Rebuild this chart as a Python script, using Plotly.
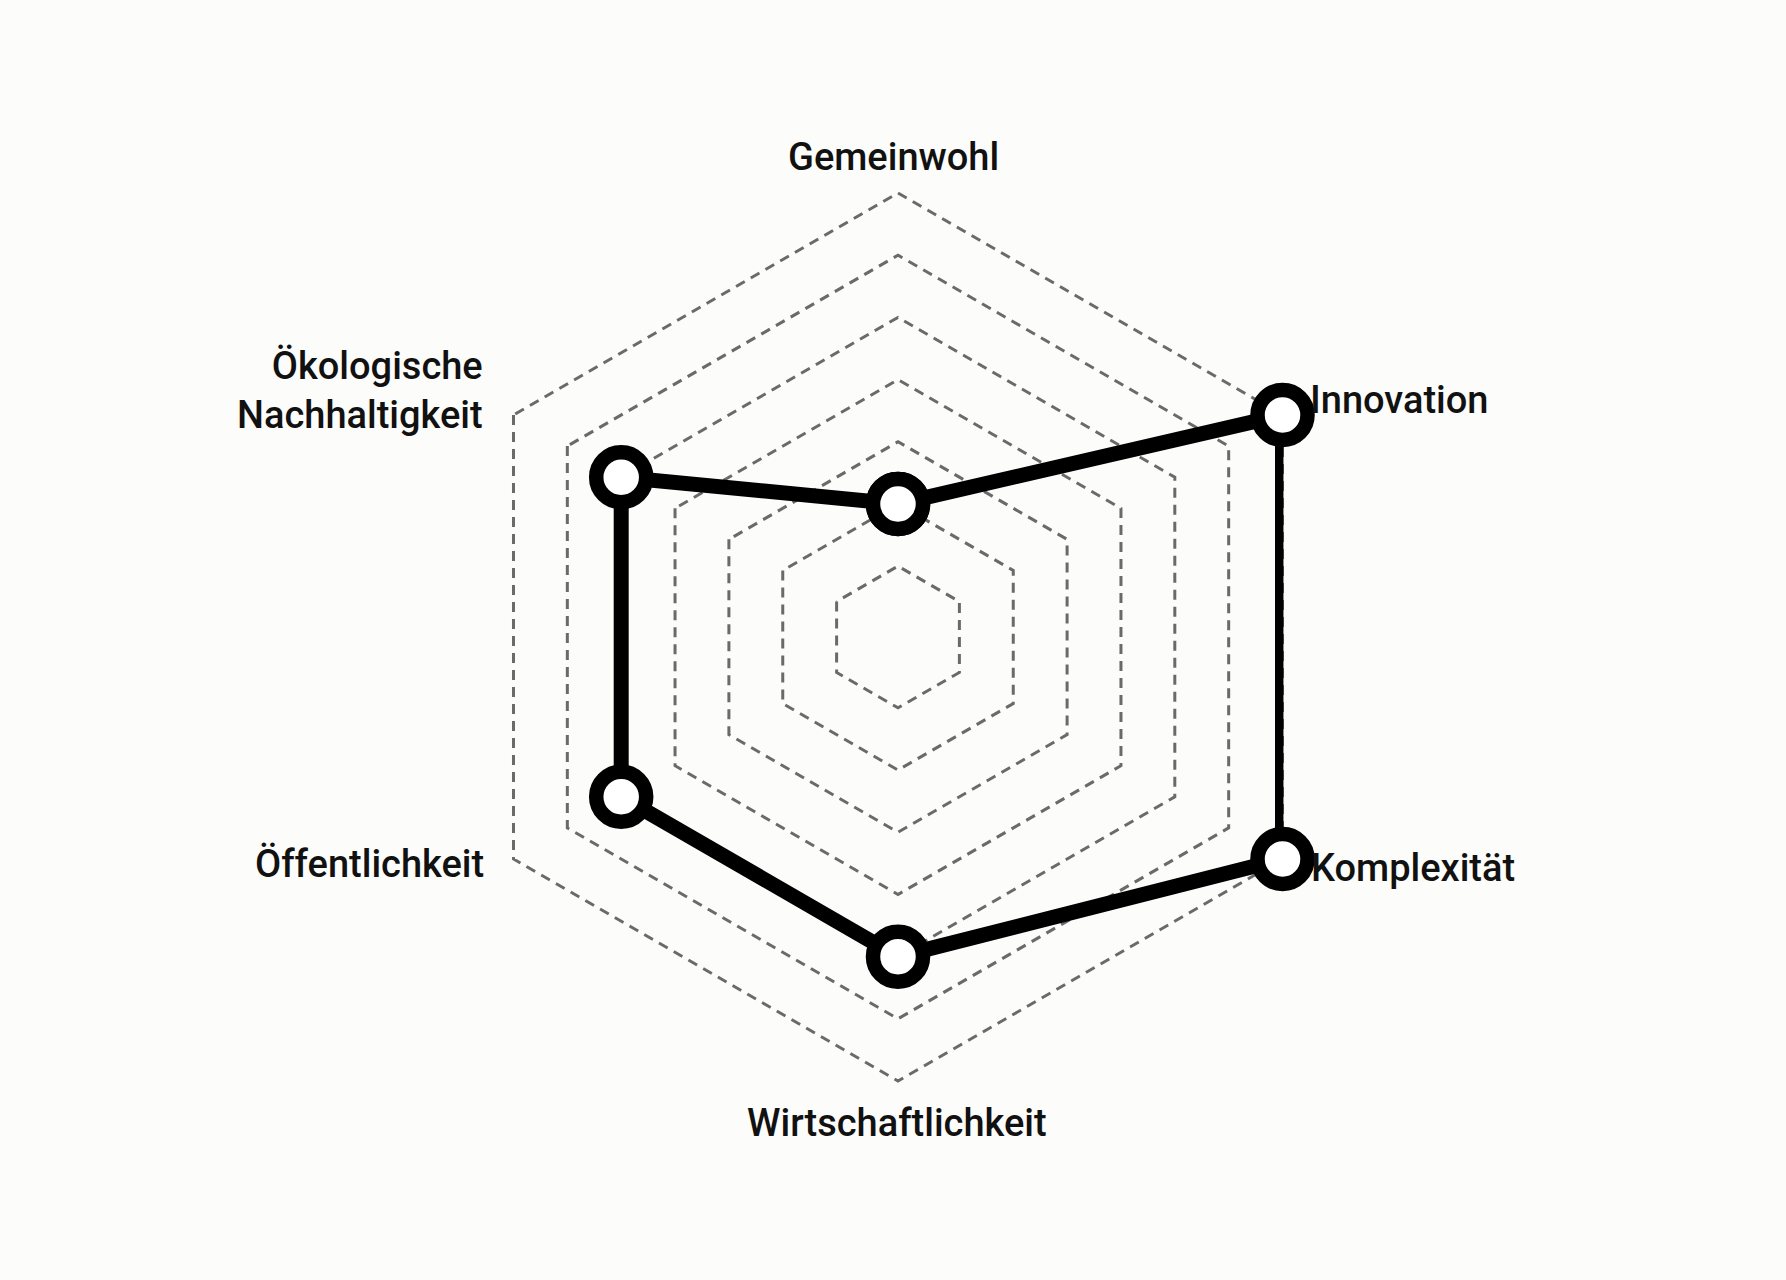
import math
import plotly.graph_objects as go

categories = ["Gemeinwohl", "Innovation", "Komplexität", "Wirtschaftlichkeit",
              "Öffentlichkeit", "Ökologische Nachhaltigkeit"]
label_texts = ["Gemeinwohl", "Innovation", "Komplexität", "Wirtschaftlichkeit",
               "Öffentlichkeit", "Ökologische<br>Nachhaltigkeit"]
values = [2, 7, 7, 5, 5, 5]
ring_values = [1, 2, 3, 4, 5, 6, 7]
axis_max = 7

# layout / styling constants (pixels)
W, H = 1786, 1280
cx, cy = 898, 637
r_min, r_max = -0.14, 7.02
R7 = 444
Rd = R7 * (r_max - r_min) / (axis_max - r_min)
FONT = dict(family="Roboto", size=38, color="#111111", weight=500)

# per-label placement relative to the outer vertex
label_style = [
    dict(xanchor="center", yanchor="middle", xshift=-4, yshift=36),
    dict(xanchor="left", yanchor="middle", xshift=25, yshift=15),
    dict(xanchor="left", yanchor="middle", xshift=26, yshift=-9),
    dict(xanchor="center", yanchor="middle", xshift=-1, yshift=-42),
    dict(xanchor="right", yanchor="middle", xshift=-27, yshift=-5),
    dict(xanchor="right", yanchor="middle", xshift=-28, yshift=25, align="right"),
]

fig = go.Figure()
fig.add_trace(go.Scatterpolar(
    r=values + values[:1],
    theta=categories + categories[:1],
    mode="lines+markers",
    line=dict(color="#000000", width=15),
    marker=dict(size=50, color="#ffffff", line=dict(color="#000000", width=14.5)),
    cliponaxis=False,
    hoverinfo="skip",
    showlegend=False,
))

n = len(categories)
annotations = []
for i, (txt, st) in enumerate(zip(label_texts, label_style)):
    ang = math.radians(90 - 360 * i / n)
    px = cx + R7 * math.cos(ang)
    py = cy - R7 * math.sin(ang)
    annotations.append(dict(
        text=txt, x=px / W, y=1 - py / H, xref="paper", yref="paper",
        showarrow=False, font=FONT, **st,
    ))

fig.update_layout(
    width=W, height=H,
    paper_bgcolor="#fcfcfa",
    plot_bgcolor="#fcfcfa",
    margin=dict(l=0, r=0, t=0, b=0),
    font=FONT,
    annotations=annotations,
    polar=dict(
        bgcolor="rgba(0,0,0,0)",
        gridshape="linear",
        domain=dict(x=[(cx - Rd) / W, (cx + Rd) / W], y=[1 - (cy + Rd) / H, 1 - (cy - Rd) / H]),
        radialaxis=dict(
            range=[r_min, r_max],
            tickvals=ring_values,
            showticklabels=False,
            ticks="",
            showline=False,
            gridcolor="#6a6a6a",
            gridwidth=3,
            griddash="10px,7px",
        ),
        angularaxis=dict(
            direction="clockwise",
            rotation=90,
            showgrid=False,
            showline=False,
            ticks="",
            showticklabels=False,
        ),
    ),
)

fig.write_html(
    "out.html",
    config={"displayModeBar": False},
    post_script="document.body.style.margin='0';document.body.style.background='#fcfcfa';",
)
